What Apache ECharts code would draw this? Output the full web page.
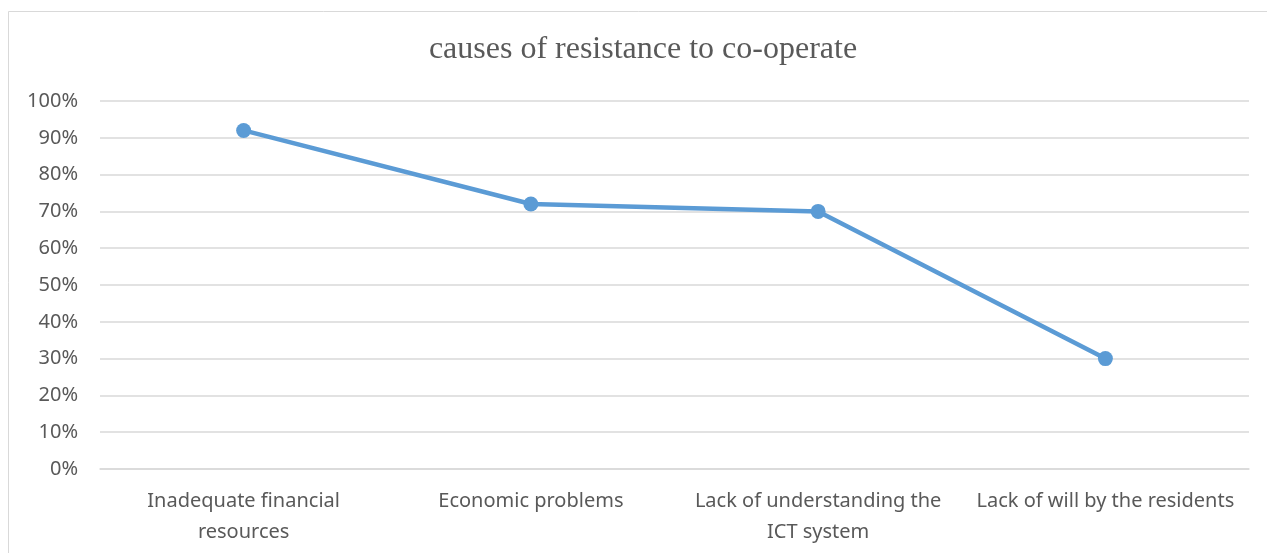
<!DOCTYPE html>
<html>
<head>
<meta charset="utf-8">
<script src="https://cdn.jsdelivr.net/npm/echarts@6/dist/echarts.min.js"></script>
<style>
  html, body { margin: 0; padding: 0; background: #ffffff; }
  #chart { width: 1267px; height: 553px; }
</style>
</head>
<body>
<div id="chart"></div>
<script>
// Causes of resistance to co-operate, share of respondents
const titleText = 'causes of resistance to co-operate';
const categories = [
  'Inadequate financial\nresources',
  'Economic problems',
  'Lack of understanding the\nICT system',
  'Lack of will by the residents'
];
const shares = [0.92, 0.72, 0.70, 0.30];
const yTicks = { min: 0, max: 1, interval: 0.1 };

const textColor = '#595959';
const gridColor = '#d9d9d9';
const lineColor = '#5b9bd5';

const chart = echarts.init(document.getElementById('chart'), null, { renderer: 'canvas' });
chart.setOption({
  animation: false,
  backgroundColor: '#ffffff',
  graphic: [
    {
      // chart frame, open on the right and bottom edges
      type: 'rect',
      shape: { x: 8.5, y: 11.5, width: 1400, height: 700 },
      style: { fill: 'none', stroke: gridColor, lineWidth: 1 },
      silent: true,
      z: -1
    },
    {
      // chart title, centred over the frame
      type: 'text',
      x: 643,
      y: 50,
      style: {
        text: titleText,
        fontFamily: 'Liberation Serif',
        fontSize: 32,
        fill: textColor,
        align: 'center',
        verticalAlign: 'middle'
      },
      silent: true
    }
  ],
  grid: { left: 100, right: 18, top: 101, bottom: 84, containLabel: false },
  xAxis: {
    type: 'category',
    data: categories,
    boundaryGap: true,
    axisLine: { show: true, lineStyle: { color: gridColor, width: 1.5 } },
    axisTick: { show: false },
    axisLabel: {
      margin: 17,
      interval: 0,
      lineHeight: 31,
      fontFamily: 'Noto Sans',
      fontSize: 20,
      color: textColor
    }
  },
  yAxis: {
    type: 'value',
    min: yTicks.min,
    max: yTicks.max,
    interval: yTicks.interval,
    axisLine: { show: false },
    axisTick: { show: false },
    splitLine: { show: true, lineStyle: { color: gridColor, width: 1.5 } },
    axisLabel: {
      margin: 22,
      fontFamily: 'Noto Sans',
      fontSize: 20,
      color: textColor,
      formatter: v => Math.round(v * 100) + '%'
    }
  },
  series: [{
    type: 'line',
    data: shares,
    symbol: 'circle',
    symbolSize: 15,
    lineStyle: { color: lineColor, width: 4.5 },
    itemStyle: { color: lineColor },
    label: { show: false }
  }]
});
</script>
</body>
</html>
